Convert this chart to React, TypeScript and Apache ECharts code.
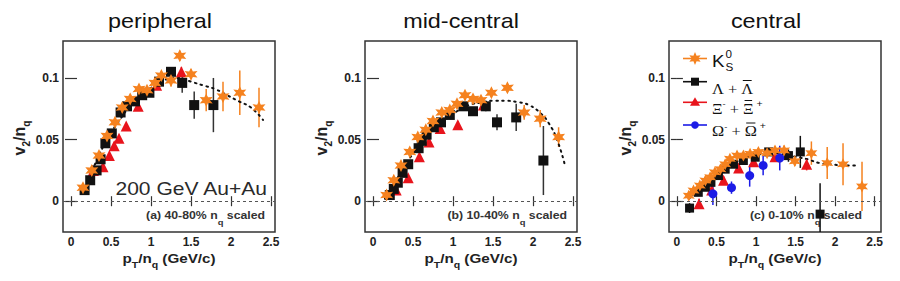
import React, { useEffect, useRef } from "react";
import * as echarts from "echarts";

// ---------- tick labels ----------
const xTicks = [0, 0.5, 1, 1.5, 2, 2.5];
const yTicks = [0, 0.05, 0.1];

// ---------- texts ----------
const titles = ["peripheral", "mid-central", "central"];
const centLabels = ["(a) 40-80% n", "(b) 10-40% n", "(c) 0-10% n"];
const energyLabel = "200 GeV Au+Au";

// ---------- panel (a) 40-80% ----------
const a_k0s_x = [0.15, 0.26, 0.35, 0.45, 0.55, 0.64, 0.74, 0.85, 0.95, 1.05, 1.13, 1.25, 1.36, 1.5, 1.69, 1.9, 2.11, 2.35];
const a_k0s_y = [0.011, 0.025, 0.037, 0.053, 0.064, 0.076, 0.083, 0.091, 0.09, 0.096, 0.102, 0.098, 0.118, 0.103, 0.082, 0.085, 0.088, 0.076];
const a_k0s_e = [0.002, 0.002, 0.002, 0.002, 0.002, 0.002, 0.002, 0.003, 0.003, 0.003, 0.003, 0.005, 0.004, 0.004, 0.009, 0.012, 0.018, 0.016];
const a_lam_x = [0.17, 0.24, 0.32, 0.37, 0.43, 0.51, 0.62, 0.7, 0.8, 0.89, 0.98, 1.1, 1.25, 1.39, 1.54, 1.78];
const a_lam_y = [0.009, 0.017, 0.025, 0.034, 0.047, 0.055, 0.072, 0.077, 0.081, 0.086, 0.088, 0.097, 0.105, 0.096, 0.078, 0.078];
const a_lam_e = [0.001, 0.001, 0.001, 0.002, 0.002, 0.002, 0.002, 0.002, 0.003, 0.003, 0.003, 0.004, 0.004, 0.008, 0.011, 0.022];
const a_xi_x = [0.28, 0.4, 0.48, 0.54, 0.6, 0.69, 0.84, 1.07, 1.38];
const a_xi_y = [0.025, 0.028, 0.037, 0.045, 0.051, 0.061, 0.077, 0.094, 0.105];
const a_xi_e = [0.002, 0.002, 0.002, 0.002, 0.002, 0.002, 0.003, 0.003, 0.004];
const a_fit_x = [0.15, 0.3, 0.45, 0.6, 0.75, 0.9, 1.05, 1.2, 1.35, 1.5, 1.65, 1.8, 1.95, 2.1, 2.25, 2.4];
const a_fit_y = [0.007, 0.03, 0.05, 0.065, 0.078, 0.087, 0.094, 0.099, 0.1, 0.097, 0.094, 0.091, 0.086, 0.081, 0.076, 0.066];

// ---------- panel (b) 10-40% ----------
const b_k0s_x = [0.17, 0.26, 0.35, 0.46, 0.56, 0.66, 0.75, 0.86, 0.96, 1.05, 1.15, 1.25, 1.35, 1.48, 1.68, 1.89, 2.09, 2.32];
const b_k0s_y = [0.005, 0.017, 0.029, 0.04, 0.052, 0.058, 0.065, 0.072, 0.074, 0.079, 0.086, 0.083, 0.082, 0.088, 0.092, 0.072, 0.067, 0.052];
const b_k0s_e = [0.001, 0.001, 0.001, 0.002, 0.002, 0.002, 0.002, 0.002, 0.002, 0.002, 0.002, 0.002, 0.003, 0.003, 0.003, 0.006, 0.007, 0.008];
const b_lam_x = [0.21, 0.26, 0.31, 0.37, 0.44, 0.57, 0.61, 0.67, 0.76, 0.85, 0.96, 1.13, 1.25, 1.41, 1.55, 1.79, 2.13];
const b_lam_y = [0.005, 0.01, 0.015, 0.023, 0.03, 0.043, 0.049, 0.054, 0.06, 0.064, 0.07, 0.077, 0.073, 0.077, 0.064, 0.068, 0.033];
const b_lam_e = [0.001, 0.001, 0.001, 0.001, 0.002, 0.002, 0.002, 0.002, 0.002, 0.002, 0.002, 0.003, 0.003, 0.004, 0.0065, 0.011, 0.028];
const b_xi_x = [0.29, 0.44, 0.58, 0.7, 0.84, 1.06, 1.38];
const b_xi_y = [0.009, 0.019, 0.036, 0.048, 0.059, 0.062, 0.078];
const b_xi_e = [0.002, 0.002, 0.002, 0.002, 0.003, 0.003, 0.004];
const b_fit_x = [0.15, 0.3, 0.45, 0.6, 0.75, 0.9, 1.05, 1.2, 1.35, 1.5, 1.65, 1.8, 1.95, 2.1, 2.2, 2.3, 2.4];
const b_fit_y = [0.002, 0.018, 0.034, 0.047, 0.058, 0.066, 0.073, 0.078, 0.08, 0.0815, 0.0815, 0.0805, 0.078, 0.071, 0.063, 0.05, 0.029];

// ---------- panel (c) 0-10% ----------
const c_k0s_x = [0.15, 0.21, 0.29, 0.36, 0.42, 0.48, 0.55, 0.61, 0.67, 0.76, 0.84, 0.925, 1.03, 1.14, 1.24, 1.355, 1.49, 1.7, 1.9, 2.1, 2.34];
const c_k0s_y = [0.0045, 0.0086, 0.0127, 0.0167, 0.0194, 0.0235, 0.026, 0.03, 0.0344, 0.037, 0.037, 0.0385, 0.04, 0.039, 0.0412, 0.0412, 0.0325, 0.039, 0.031, 0.03, 0.012];
const c_k0s_e = [0.003, 0.003, 0.003, 0.003, 0.003, 0.003, 0.003, 0.003, 0.003, 0.003, 0.003, 0.003, 0.003, 0.003, 0.003, 0.004, 0.004, 0.0095, 0.013, 0.017, 0.02];
const c_lam_x = [0.16, 0.27, 0.36, 0.43, 0.525, 0.61, 0.715, 0.84, 0.99, 1.16, 1.41, 1.56, 1.81];
const c_lam_y = [-0.0056, 0.0072, 0.0113, 0.0153, 0.0208, 0.026, 0.03, 0.033, 0.0357, 0.04, 0.037, 0.04, -0.0105];
const c_lam_e = [0.004, 0.003, 0.002, 0.002, 0.002, 0.002, 0.002, 0.002, 0.003, 0.003, 0.005, 0.013, 0.025];
const c_xi_x = [0.28, 0.44, 0.59, 0.78, 0.97, 1.24, 1.64];
const c_xi_y = [-0.002, 0.009, 0.017, 0.027, 0.032, 0.036, 0.03];
const c_xi_e = [0.004, 0.003, 0.003, 0.003, 0.003, 0.004, 0.005];
const c_om_x = [0.455, 0.69, 0.92, 1.09, 1.3];
const c_om_y = [0.006, 0.011, 0.0208, 0.029, 0.035];
const c_om_e = [0.009, 0.005, 0.009, 0.008, 0.01];
const c_fit_x = [0.15, 0.3, 0.45, 0.6, 0.75, 0.9, 1.05, 1.2, 1.35, 1.5, 1.65, 1.8, 1.95, 2.1, 2.3];
const c_fit_y = [0.002, 0.01, 0.018, 0.026, 0.032, 0.036, 0.038, 0.039, 0.038, 0.036, 0.034, 0.031, 0.03, 0.029, 0.029];

// ---------- styling ----------
const ORANGE = "#f5821f";
const BLACK = "#111111";
const RED = "#e8141c";
const BLUE = "#1c1ce6";
const SANS = "Liberation Sans, Arial, sans-serif";
const SERIF = "Liberation Serif, Times New Roman, serif";
const SX = 1.17;

const Y_MIN = -0.025;
const Y_MAX = 0.13;
const GRID_TOP = 41;
const GRID_H = 191;

const layout = [
  { left: 63, width: 212, xmax: 2.55 },
  { left: 365, width: 212, xmax: 2.55 },
  { left: 669, width: 212, xmax: 2.58 },
];

function starPoints(cx: number, cy: number, R: number, r: number) {
  const pts: number[][] = [];
  for (let k = 0; k < 12; k++) {
    const a = -Math.PI / 2 + (k * Math.PI) / 6;
    const rr = k % 2 === 0 ? R : r;
    pts.push([cx + rr * Math.cos(a), cy + rr * Math.sin(a)]);
  }
  return pts;
}
const STAR_PATH =
  "path://M" +
  starPoints(10, 10, 10, 5)
    .map((p) => p[0].toFixed(2) + "," + p[1].toFixed(2))
    .join("L") +
  "Z";

const zip = (xs: number[], ys: number[]) => xs.map((x, i) => [x, ys[i]]);
const errs = (xs: number[], ys: number[], es: number[]) =>
  xs.map((x, i) => [x, ys[i] - es[i], ys[i] + es[i]]);

function errorSeries(gi: number, data: number[][], color: string) {
  return {
    type: "custom",
    xAxisIndex: gi * 2,
    yAxisIndex: gi * 2,
    z: 1,
    silent: true,
    data,
    encode: { x: 0, y: [1, 2] },
    renderItem: (params: any, api: any) => {
      const x = api.value(0);
      const p1 = api.coord([x, api.value(1)]);
      const p2 = api.coord([x, api.value(2)]);
      const cs = params.coordSys;
      const clamp = (v: number) => Math.max(cs.y, Math.min(cs.y + cs.height, v));
      return {
        type: "line",
        shape: { x1: p1[0], y1: clamp(p1[1]), x2: p2[0], y2: clamp(p2[1]) },
        style: { stroke: color, lineWidth: 1.5 },
      };
    },
  };
}

function scatter(gi: number, data: number[][], symbol: string, size: number, color: string, z: number) {
  return {
    type: "scatter",
    xAxisIndex: gi * 2,
    yAxisIndex: gi * 2,
    data,
    symbol,
    symbolSize: size,
    itemStyle: { color, opacity: 1 },
    z,
    silent: true,
  };
}

function fitSeries(gi: number, data: number[][]) {
  return {
    type: "line",
    xAxisIndex: gi * 2,
    yAxisIndex: gi * 2,
    data,
    smooth: true,
    showSymbol: false,
    silent: true,
    z: 1.5,
    lineStyle: { color: "#111", width: 2, type: [1.5, 4.5], cap: "round" },
    markLine: {
      silent: true,
      symbol: "none",
      label: { show: false },
      lineStyle: { color: "#555", width: 1.2, type: [3, 3] },
      data: [{ yAxis: 0 }],
    },
  };
}

const measureCtx =
  typeof document !== "undefined" ? document.createElement("canvas").getContext("2d") : null;
function textW(t: string, size: number, family: string, weight = "normal") {
  if (!measureCtx) return t.length * size * 0.6;
  measureCtx.font = `${weight} ${size}px ${family}`;
  return measureCtx.measureText(t).width;
}

type Piece = { t: string; size: number; family: string; dy?: number; over?: boolean; weight?: string };
function seq(x0: number, yMid: number, pieces: Piece[]) {
  let x = x0;
  const out: any[] = [];
  for (const p of pieces) {
    const w = textW(p.t, p.size, p.family, p.weight) * SX;
    out.push({
      type: "text",
      x,
      y: yMid + (p.dy || 0),
      scaleX: SX,
      z: 20,
      style: {
        text: p.t,
        fontSize: p.size,
        fontFamily: p.family,
        fontWeight: p.weight || "normal",
        fill: "#111",
        align: "left",
        verticalAlign: "middle",
      },
    });
    if (p.over) {
      const yo = yMid - p.size * 0.5 - 1;
      out.push({
        type: "line",
        z: 20,
        shape: { x1: x + 1.5, y1: yo, x2: x + w - 1.5, y2: yo },
        style: { stroke: "#111", lineWidth: 1 },
      });
    }
    x += w;
  }
  return out;
}

function buildGraphics() {
  const els: any[] = [];
  const titleX = [160, 461, 766];
  titles.forEach((t, i) => {
    els.push({
      type: "text",
      x: titleX[i],
      y: 21,
      scaleX: SX,
      style: { text: t, fontSize: 20, fontFamily: SANS, fill: "#111", align: "center", verticalAlign: "middle" },
    });
  });
  const labRight = [265, 567, 862];
  centLabels.forEach((t, i) => {
    els.push({
      type: "text",
      x: labRight[i],
      y: 215,
      scaleX: SX,
      z: 0,
      style: {
        text: t + "{s|q} scaled",
        fontSize: 10.5,
        fontFamily: SANS,
        fontWeight: "bold",
        fill: "#333",
        align: "right",
        verticalAlign: "middle",
        lineHeight: 22,
        rich: { s: { fontSize: 8, fontFamily: SANS, fontWeight: "bold", fill: "#333", verticalAlign: "bottom", lineHeight: 8 } },
      },
    });
  });
  els.push({
    type: "text",
    x: 267,
    y: 189,
    scaleX: SX,
    style: { text: energyLabel, fontSize: 18, fontFamily: SANS, fill: "#2a2a2a", align: "right", verticalAlign: "middle" },
  });
  layout.forEach((L) => {
    els.push({
      type: "text",
      x: L.left + L.width / 2,
      y: 258,
      scaleX: SX,
      style: {
        text: "p{s|T}/n{s|q} (GeV/c)",
        fontSize: 13,
        fontFamily: SANS,
        fontWeight: "bold",
        fill: "#222",
        align: "center",
        verticalAlign: "middle",
        lineHeight: 22,
        rich: { s: { fontSize: 9, fontFamily: SANS, fontWeight: "bold", fill: "#222", verticalAlign: "bottom", lineHeight: 9 } },
      },
    });
    els.push({
      type: "text",
      x: L.left - 44,
      y: 138,
      rotation: Math.PI / 2,
      style: {
        text: "v{s|2}/n{s|q}",
        fontSize: 16,
        fontFamily: SANS,
        fontWeight: "bold",
        fill: "#222",
        align: "center",
        verticalAlign: "middle",
        lineHeight: 24,
        rich: { s: { fontSize: 10, fontFamily: SANS, fontWeight: "bold", fill: "#222", verticalAlign: "bottom", lineHeight: 10 } },
      },
    });
  });
  const lx1 = 683, lx2 = 707, mx = 695, tx = 712;
  const rowsLine = [58.5, 81.7, 102.3, 125];
  const colors = [ORANGE, BLACK, RED, BLUE];
  rowsLine.forEach((y, i) => {
    els.push({ type: "line", z: 20, shape: { x1: lx1, y1: y, x2: lx2, y2: y }, style: { stroke: colors[i], lineWidth: 1.6 } });
  });
  els.push({ type: "polygon", z: 21, shape: { points: starPoints(mx, rowsLine[0], 6.5, 3.2) }, style: { fill: ORANGE } });
  els.push({ type: "rect", z: 21, shape: { x: mx - 4, y: rowsLine[1] - 4, width: 8, height: 8 }, style: { fill: BLACK } });
  els.push({
    type: "polygon",
    z: 21,
    shape: { points: [[mx, rowsLine[2] - 5], [mx - 5, rowsLine[2] + 3.5], [mx + 5, rowsLine[2] + 3.5]] },
    style: { fill: RED },
  });
  els.push({ type: "circle", z: 21, shape: { cx: mx, cy: rowsLine[3], r: 3.8 }, style: { fill: BLUE } });
  const kW = textW("K", 16, SANS) * SX;
  els.push(...seq(tx, 61, [{ t: "K", size: 16, family: SANS }]));
  els.push(...seq(tx + kW + 1, 54, [{ t: "0", size: 10, family: SANS }]));
  els.push(...seq(tx + kW + 1, 67.5, [{ t: "S", size: 10, family: SANS }]));
  els.push(
    ...seq(tx, 88.5, [
      { t: "Λ", size: 14, family: SERIF },
      { t: " + ", size: 14, family: SERIF },
      { t: "Λ", size: 14, family: SERIF, over: true },
    ])
  );
  els.push(
    ...seq(tx, 108.5, [
      { t: "Ξ", size: 14, family: SERIF },
      { t: "-", size: 8, family: SANS, dy: -5 },
      { t: " + ", size: 14, family: SERIF },
      { t: "Ξ", size: 14, family: SERIF, over: true },
      { t: " +", size: 9, family: SANS, dy: -5 },
    ])
  );
  els.push(
    ...seq(tx, 131, [
      { t: "Ω", size: 14, family: SERIF },
      { t: "-", size: 8, family: SANS, dy: -5 },
      { t: " + ", size: 14, family: SERIF },
      { t: "Ω", size: 14, family: SERIF, over: true },
      { t: " +", size: 9, family: SANS, dy: -5 },
    ])
  );
  return els;
}

function buildOption() {
  const grid = layout.map((L) => ({
    left: L.left,
    top: GRID_TOP,
    width: L.width,
    height: GRID_H,
    show: true,
    borderColor: "#333",
    borderWidth: 1.5,
    backgroundColor: "transparent",
  }));
  const tickStyle = { color: "#333", width: 1.2 };
  const xAxis: any[] = [];
  const yAxis: any[] = [];
  layout.forEach((L, gi) => {
    (["bottom", "top"] as const).forEach((pos) => {
      xAxis.push({
        type: "value",
        gridIndex: gi,
        position: pos,
        min: -0.1,
        max: L.xmax,
        axisLine: { show: false },
        splitLine: { show: false },
        axisTick: { show: true, inside: true, length: 5, customValues: xTicks, lineStyle: tickStyle },
        axisLabel: {
          show: pos === "bottom",
          customValues: xTicks,
          margin: 4,
          fontSize: 12,
          fontWeight: "bold",
          fontFamily: SANS,
          color: "#222",
        },
      });
    });
    (["left", "right"] as const).forEach((pos) => {
      yAxis.push({
        type: "value",
        gridIndex: gi,
        position: pos,
        min: Y_MIN,
        max: Y_MAX,
        axisLine: { show: false },
        splitLine: { show: false },
        axisTick: { show: true, inside: true, length: 6, customValues: yTicks, lineStyle: tickStyle },
        axisLabel: {
          show: pos === "left",
          customValues: yTicks,
          margin: 4,
          fontSize: 12,
          fontWeight: "bold",
          fontFamily: SANS,
          color: "#222",
        },
      });
    });
  });

  const series: any[] = [
    errorSeries(0, errs(a_k0s_x, a_k0s_y, a_k0s_e), ORANGE),
    errorSeries(0, errs(a_lam_x, a_lam_y, a_lam_e), "#333"),
    errorSeries(0, errs(a_xi_x, a_xi_y, a_xi_e), RED),
    fitSeries(0, zip(a_fit_x, a_fit_y)),
    scatter(0, zip(a_xi_x, a_xi_y), "triangle", 11, RED, 2),
    scatter(0, zip(a_lam_x, a_lam_y), "rect", 10, BLACK, 3),
    scatter(0, zip(a_k0s_x, a_k0s_y), STAR_PATH, 13, ORANGE, 4),
    errorSeries(1, errs(b_k0s_x, b_k0s_y, b_k0s_e), ORANGE),
    errorSeries(1, errs(b_lam_x, b_lam_y, b_lam_e), "#333"),
    errorSeries(1, errs(b_xi_x, b_xi_y, b_xi_e), RED),
    fitSeries(1, zip(b_fit_x, b_fit_y)),
    scatter(1, zip(b_xi_x, b_xi_y), "triangle", 11, RED, 2),
    scatter(1, zip(b_lam_x, b_lam_y), "rect", 10, BLACK, 3),
    scatter(1, zip(b_k0s_x, b_k0s_y), STAR_PATH, 13, ORANGE, 4),
    errorSeries(2, errs(c_k0s_x, c_k0s_y, c_k0s_e), ORANGE),
    errorSeries(2, errs(c_lam_x, c_lam_y, c_lam_e), "#111"),
    errorSeries(2, errs(c_xi_x, c_xi_y, c_xi_e), RED),
    errorSeries(2, errs(c_om_x, c_om_y, c_om_e), BLUE),
    fitSeries(2, zip(c_fit_x, c_fit_y)),
    scatter(2, zip(c_xi_x, c_xi_y), "triangle", 11, RED, 2),
    scatter(2, zip(c_lam_x, c_lam_y), "rect", 9, BLACK, 3),
    scatter(2, zip(c_k0s_x, c_k0s_y), STAR_PATH, 12, ORANGE, 4),
    scatter(2, zip(c_om_x, c_om_y), "circle", 9, BLUE, 4),
  ];

  return {
    animation: false,
    backgroundColor: "#ffffff",
    grid,
    xAxis,
    yAxis,
    series,
    graphic: { elements: buildGraphics() },
  };
}

export default function App() {
  const ref = useRef<HTMLDivElement>(null);
  useEffect(() => {
    if (!ref.current) return;
    const chart = echarts.init(ref.current, undefined, { renderer: "svg" });
    chart.setOption(buildOption() as any);
    return () => chart.dispose();
  }, []);
  return (
    <div
      ref={ref}
      style={{ position: "fixed", left: 0, top: 0, width: 900, height: 281, background: "#fff" }}
    />
  );
}
